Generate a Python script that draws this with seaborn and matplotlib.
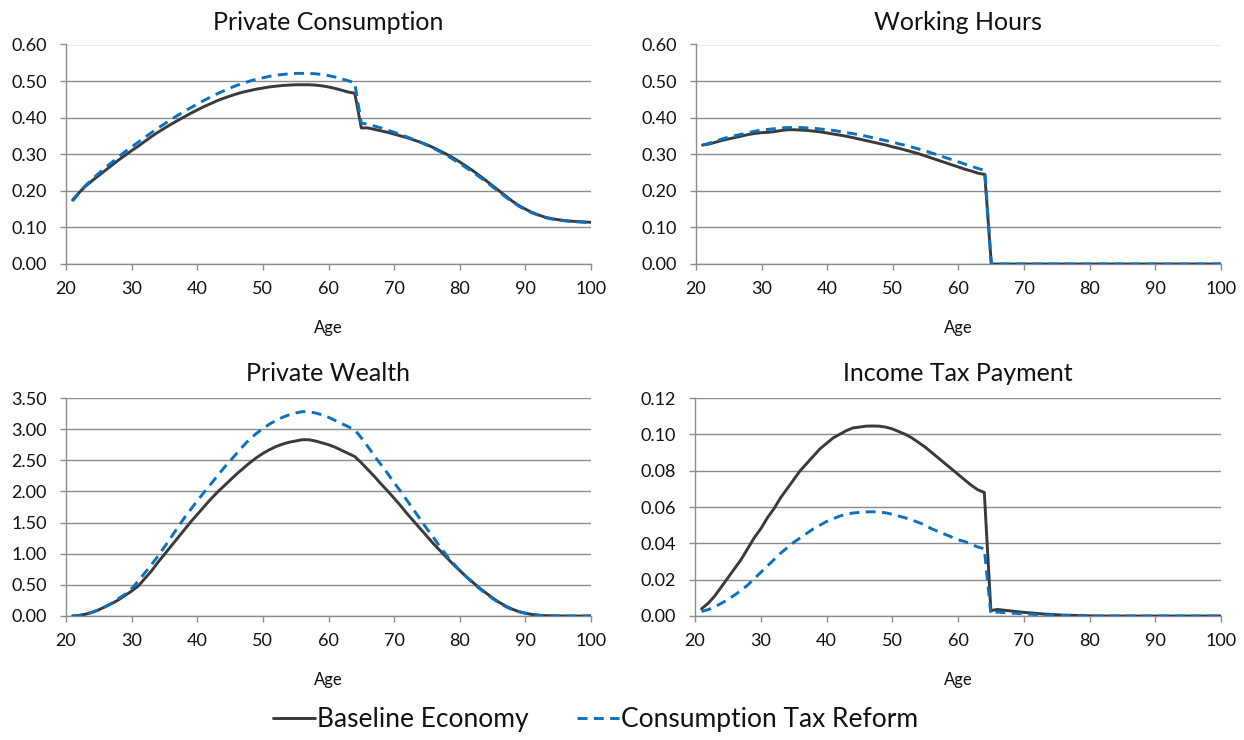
import numpy as np
import pandas as pd
import matplotlib
matplotlib.use("Agg")
import matplotlib.pyplot as plt
from matplotlib.lines import Line2D
from matplotlib.ticker import FormatStrFormatter
import seaborn as sns

# ---- data -----------------------------------------------------------------
ages = list(range(21, 101))
scenarios = ["Baseline Economy", "Consumption Tax Reform"]

cons_base = [
    0.175, 0.195, 0.213, 0.228, 0.242, 0.256, 0.270, 0.284, 0.297, 0.310,
    0.322, 0.335, 0.348, 0.360, 0.371, 0.382, 0.392, 0.402, 0.412, 0.421,
    0.430, 0.438, 0.446, 0.453, 0.459, 0.465, 0.470, 0.474, 0.478, 0.481,
    0.484, 0.486, 0.488, 0.489, 0.490, 0.490, 0.490, 0.489, 0.487, 0.484,
    0.480, 0.475, 0.470, 0.467, 0.372, 0.372, 0.368, 0.364, 0.360, 0.355,
    0.350, 0.345, 0.339, 0.333, 0.326, 0.318, 0.309, 0.300, 0.290, 0.279,
    0.267, 0.255, 0.242, 0.228, 0.214, 0.200, 0.186, 0.172, 0.160, 0.150,
    0.141, 0.134, 0.128, 0.124, 0.121, 0.119, 0.117, 0.116, 0.115, 0.114,
]
cons_reform = [
    0.172, 0.195, 0.215, 0.232, 0.248, 0.263, 0.278, 0.293, 0.307, 0.320,
    0.333, 0.346, 0.359, 0.371, 0.383, 0.395, 0.406, 0.417, 0.427, 0.437,
    0.447, 0.456, 0.465, 0.473, 0.481, 0.488, 0.494, 0.500, 0.505, 0.509,
    0.513, 0.516, 0.518, 0.520, 0.521, 0.521, 0.521, 0.520, 0.518, 0.515,
    0.511, 0.506, 0.501, 0.495, 0.385, 0.382, 0.377, 0.372, 0.366, 0.360,
    0.354, 0.347, 0.340, 0.333, 0.325, 0.316, 0.307, 0.297, 0.286, 0.275,
    0.263, 0.251, 0.238, 0.225, 0.211, 0.197, 0.183, 0.170, 0.158, 0.148,
    0.140, 0.133, 0.127, 0.123, 0.120, 0.118, 0.116, 0.115, 0.114, 0.113,
]

hours_base = [
    0.325, 0.328, 0.333, 0.338, 0.342, 0.346, 0.350, 0.354, 0.357, 0.359,
    0.360, 0.362, 0.365, 0.367, 0.367, 0.366, 0.365, 0.363, 0.361, 0.358,
    0.355, 0.352, 0.349, 0.345, 0.341, 0.337, 0.333, 0.329, 0.325, 0.320,
    0.316, 0.311, 0.306, 0.301, 0.295, 0.289, 0.283, 0.277, 0.271, 0.265,
    0.259, 0.254, 0.248, 0.245, 0.000, 0.000, 0.000, 0.000, 0.000, 0.000,
    0.000, 0.000, 0.000, 0.000, 0.000, 0.000, 0.000, 0.000, 0.000, 0.000,
    0.000, 0.000, 0.000, 0.000, 0.000, 0.000, 0.000, 0.000, 0.000, 0.000,
    0.000, 0.000, 0.000, 0.000, 0.000, 0.000, 0.000, 0.000, 0.000, 0.000,
]
hours_reform = [
    0.325, 0.330, 0.336, 0.342, 0.347, 0.351, 0.355, 0.359, 0.363, 0.366,
    0.368, 0.370, 0.372, 0.373, 0.373, 0.373, 0.372, 0.371, 0.369, 0.367,
    0.365, 0.362, 0.359, 0.356, 0.353, 0.349, 0.345, 0.341, 0.337, 0.333,
    0.328, 0.324, 0.319, 0.314, 0.309, 0.303, 0.297, 0.291, 0.285, 0.279,
    0.273, 0.267, 0.261, 0.256, 0.000, 0.000, 0.000, 0.000, 0.000, 0.000,
    0.000, 0.000, 0.000, 0.000, 0.000, 0.000, 0.000, 0.000, 0.000, 0.000,
    0.000, 0.000, 0.000, 0.000, 0.000, 0.000, 0.000, 0.000, 0.000, 0.000,
    0.000, 0.000, 0.000, 0.000, 0.000, 0.000, 0.000, 0.000, 0.000, 0.000,
]

wealth_base = [
    0.000, 0.010, 0.030, 0.060, 0.100, 0.150, 0.200, 0.260, 0.330, 0.400,
    0.480, 0.600, 0.720, 0.860, 0.990, 1.120, 1.250, 1.380, 1.510, 1.630,
    1.750, 1.870, 1.980, 2.080, 2.180, 2.280, 2.370, 2.460, 2.540, 2.610,
    2.670, 2.720, 2.760, 2.790, 2.810, 2.830, 2.830, 2.810, 2.780, 2.750,
    2.710, 2.660, 2.610, 2.560, 2.460, 2.350, 2.240, 2.120, 2.010, 1.890,
    1.770, 1.640, 1.520, 1.400, 1.280, 1.160, 1.050, 0.940, 0.830, 0.730,
    0.630, 0.540, 0.450, 0.370, 0.290, 0.220, 0.160, 0.110, 0.070, 0.045,
    0.025, 0.012, 0.006, 0.003, 0.001, 0.000, 0.000, 0.000, 0.000, 0.000,
]
wealth_reform = [
    0.000, 0.010, 0.030, 0.060, 0.100, 0.150, 0.210, 0.280, 0.350, 0.440,
    0.560, 0.690, 0.820, 0.960, 1.110, 1.260, 1.420, 1.570, 1.710, 1.850,
    1.980, 2.110, 2.240, 2.370, 2.490, 2.610, 2.730, 2.840, 2.930, 3.010,
    3.080, 3.140, 3.190, 3.230, 3.260, 3.280, 3.280, 3.260, 3.230, 3.190,
    3.140, 3.090, 3.040, 2.990, 2.860, 2.720, 2.570, 2.430, 2.290, 2.140,
    2.000, 1.850, 1.700, 1.550, 1.400, 1.260, 1.110, 0.970, 0.850, 0.730,
    0.630, 0.530, 0.440, 0.360, 0.280, 0.210, 0.150, 0.100, 0.070, 0.045,
    0.025, 0.012, 0.006, 0.003, 0.000, 0.000, 0.000, 0.000, 0.000, 0.000,
]

tax_base = [
    0.0040, 0.0070, 0.0110, 0.0160, 0.0210, 0.0260, 0.0310, 0.0370, 0.0430, 0.0480,
    0.0540, 0.0590, 0.0650, 0.0700, 0.0750, 0.0800, 0.0840, 0.0880, 0.0920, 0.0950,
    0.0980, 0.1000, 0.1020, 0.1035, 0.1040, 0.1045, 0.1046, 0.1045, 0.1040, 0.1030,
    0.1015, 0.1000, 0.0980, 0.0955, 0.0930, 0.0900, 0.0870, 0.0840, 0.0810, 0.0780,
    0.0750, 0.0720, 0.0695, 0.0680, 0.0030, 0.0036, 0.0032, 0.0028, 0.0024, 0.0020,
    0.0017, 0.0014, 0.0011, 0.0009, 0.0007, 0.0005, 0.0004, 0.0003, 0.0002, 0.0001,
    0.0000, 0.0000, 0.0000, 0.0000, 0.0000, 0.0000, 0.0000, 0.0000, 0.0000, 0.0000,
    0.0000, 0.0000, 0.0000, 0.0000, 0.0000, 0.0000, 0.0000, 0.0000, 0.0000, 0.0000,
]
tax_reform = [
    0.0025, 0.0035, 0.0050, 0.0070, 0.0090, 0.0115, 0.0140, 0.0170, 0.0205, 0.0240,
    0.0275, 0.0310, 0.0345, 0.0375, 0.0405, 0.0430, 0.0455, 0.0480, 0.0500, 0.0520,
    0.0535, 0.0550, 0.0560, 0.0567, 0.0570, 0.0573, 0.0574, 0.0572, 0.0568, 0.0560,
    0.0550, 0.0540, 0.0528, 0.0515, 0.0500, 0.0480, 0.0465, 0.0450, 0.0435, 0.0420,
    0.0410, 0.0395, 0.0380, 0.0370, 0.0010, 0.0022, 0.0019, 0.0016, 0.0014, 0.0012,
    0.0010, 0.0008, 0.0006, 0.0005, 0.0004, 0.0003, 0.0002, 0.0001, 0.0000, 0.0000,
    0.0000, 0.0000, 0.0000, 0.0000, 0.0000, 0.0000, 0.0000, 0.0000, 0.0000, 0.0000,
    0.0000, 0.0000, 0.0000, 0.0000, 0.0000, 0.0000, 0.0000, 0.0000, 0.0000, 0.0000,
]

panel_titles = ["Private Consumption", "Working Hours",
                "Private Wealth", "Income Tax Payment"]
panel_series = [(cons_base, cons_reform), (hours_base, hours_reform),
                (wealth_base, wealth_reform), (tax_base, tax_reform)]
y_ticks = [
    [0.00, 0.10, 0.20, 0.30, 0.40, 0.50, 0.60],
    [0.00, 0.10, 0.20, 0.30, 0.40, 0.50, 0.60],
    [0.00, 0.50, 1.00, 1.50, 2.00, 2.50, 3.00, 3.50],
    [0.00, 0.02, 0.04, 0.06, 0.08, 0.10, 0.12],
]
x_ticks = [20, 30, 40, 50, 60, 70, 80, 90, 100]
x_label = "Age"

# ---- style ----------------------------------------------------------------
sns.set_theme(style="white")
plt.rcParams["font.family"] = ["Lato", "DejaVu Sans"]

W, H = 1244, 740
GRID = "#8c8c8c"
TEXT = "#111111"
palette = {"Baseline Economy": "#3a3a3a", "Consumption Tax Reform": "#0a70c0"}
dash_map = {"Baseline Economy": "", "Consumption Tax Reform": (3.4, 2.2)}

fig = plt.figure(figsize=(W / 100, H / 100), dpi=100)

# axes boxes in pixels (left, top, right, bottom) and title padding
boxes = [(66, 44.5, 591, 264), (696, 44.5, 1221, 264),
         (66, 398, 591, 616), (695, 398, 1221, 616)]
title_pads = [10.5, 10.5, 12.5, 12.5]

for box, tpad, title, (base, reform), yt in zip(boxes, title_pads, panel_titles,
                                                panel_series, y_ticks):
    l, t, r, b = box
    ax = fig.add_axes([l / W, 1 - b / H, (r - l) / W, (b - t) / H])
    df = pd.DataFrame({
        "Age": ages * 2,
        "value": list(base) + list(reform),
        "Scenario": [scenarios[0]] * len(ages) + [scenarios[1]] * len(ages),
    })
    sns.lineplot(data=df, x="Age", y="value", hue="Scenario",
                 style="Scenario", palette=palette, dashes=dash_map,
                 linewidth=2.1, legend=False, ax=ax, zorder=3)
    ax.set_xlim(20, 100)
    ax.set_ylim(yt[0], yt[-1])
    ax.set_xticks(x_ticks)
    ax.set_yticks(yt)
    ax.yaxis.set_major_formatter(FormatStrFormatter("%.2f"))
    ax.grid(axis="y", color=GRID, linewidth=1.0, zorder=0)
    ax.grid(axis="x", visible=False)
    for side in ("top", "right"):
        ax.spines[side].set_visible(False)
    for side in ("left", "bottom"):
        ax.spines[side].set_color(GRID)
        ax.spines[side].set_linewidth(1.0)
    ax.tick_params(axis="y", which="major", direction="out", length=4,
                   width=1.0, color=GRID, pad=10, labelsize=13,
                   labelcolor=TEXT, left=True)
    ax.tick_params(axis="x", which="major", direction="out", length=4,
                   width=1.0, color=GRID, pad=8, labelsize=13,
                   labelcolor=TEXT, bottom=True)
    ax.set_ylabel("")
    ax.set_xlabel(x_label, fontsize=12, labelpad=16.5, color=TEXT)
    ax.set_title(title, fontsize=18, pad=tpad, color=TEXT)

handles = [
    Line2D([], [], color=palette[scenarios[0]], linewidth=2.1),
    Line2D([], [], color=palette[scenarios[1]], linewidth=2.1,
           linestyle=(0, dash_map[scenarios[1]])),
]
fig.legend(handles, scenarios, loc="center left",
           bbox_to_anchor=(260 / W, 1 - 720 / H),
           ncol=2, frameon=False, fontsize=19, handlelength=1.6,
           handletextpad=0.05, columnspacing=1.85, borderpad=0,
           labelcolor=TEXT)

fig.savefig("out.png", dpi=100)
